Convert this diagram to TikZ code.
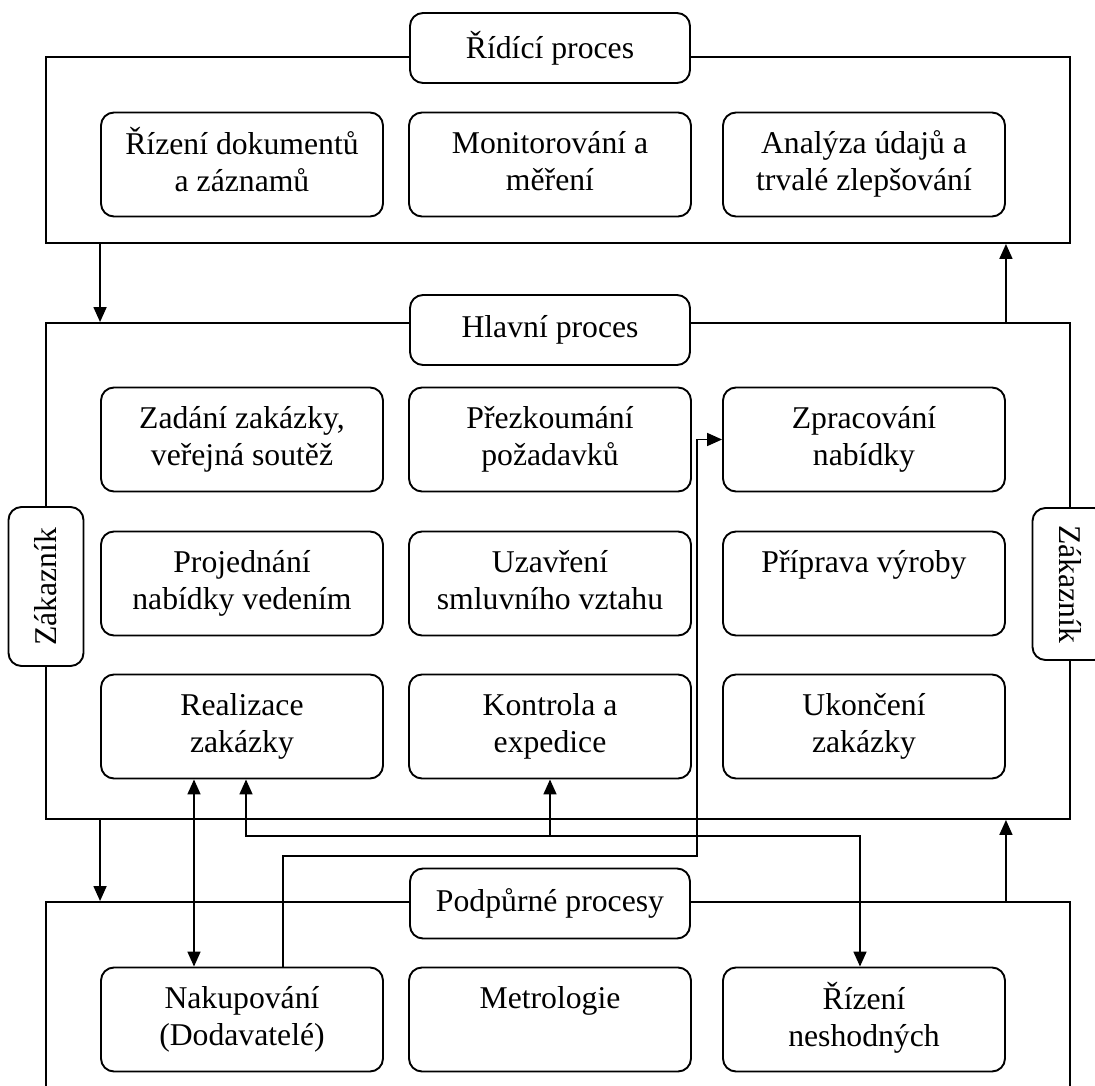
\documentclass[tikz,border=0pt]{standalone}
\usepackage{fontspec}
\setmainfont{Liberation Serif}
\usetikzlibrary{arrows.meta}
\begin{document}
\begin{tikzpicture}[x=1pt,y=-1pt,
  every node/.style={font=\fontsize{31.7}{37}\selectfont},
  frame/.style={draw, line width=1.9pt, minimum width=1024, inner sep=0},
  procbox/.style={draw, line width=1.9pt, rounded corners=13pt, fill=white,
    minimum width=282, minimum height=104, align=center, inner sep=0},
  titlebox/.style={draw, line width=1.9pt, rounded corners=13pt, fill=white,
    minimum width=280, minimum height=70, inner sep=0},
  custbox/.style={draw, line width=1.9pt, rounded corners=13pt, fill=white,
    minimum height=75, inner sep=0},
  link/.style={line width=1.7pt},
  tip/.tip={Triangle[length=15pt,width=13pt]},
  arr/.style={link, -tip},
  dbl/.style={link, tip-tip},
]
\clip (0,0) rectangle (1095,1086);

% process groups
\node[frame, minimum height=186] (ctrl) at (558,150) {};
\node[frame, minimum height=496] (main) at (558,571) {};
\node[frame, minimum height=218] (supp) at (558,1011) {};

% routing points
\coordinate (dv) at (194,0);
\coordinate (j1) at (246,836);
\coordinate (nes) at (860,836);
\coordinate (k1) at (283,856);
\coordinate (k2) at (697,856);

% group titles
\node[titlebox] (tctrl) at (550,48) {Řídící proces};
\node[titlebox] (tmain) at (550,330) {Hlavní proces};
\node[titlebox] (tsupp) at (550,903.5) {Podpůrné procesy};

% control processes
\node[procbox] (r1) at (242,164.5) {\strut Řízení dokumentů\\\strut a záznamů};
\node[procbox] (r2) at (550,164.5) {\strut Monitorování a\\\strut měření};
\node[procbox] (r3) at (864,164.5) {\strut Analýza údajů a\\\strut trvalé zlepšování};

% main processes
\node[procbox] (a1) at (242,439.5) {\strut Zadání zakázky,\\\strut veřejná soutěž};
\node[procbox] (a2) at (550,439.5) {\strut Přezkoumání\\\strut požadavků};
\node[procbox] (a3) at (864,439.5) {\strut Zpracování\\\strut nabídky};
\node[procbox] (b1) at (242,583.5) {\strut Projednání\\\strut nabídky vedením};
\node[procbox] (b2) at (550,583.5) {\strut Uzavření\\\strut smluvního vztahu};
\node[procbox] (b3) at (864,583.5) {\strut Příprava výroby\\\strut};
\node[procbox] (c1) at (242,726.5) {\strut Realizace\\\strut zakázky};
\node[procbox] (c2) at (550,726.5) {\strut Kontrola a\\\strut expedice};
\node[procbox] (c3) at (864,726.5) {\strut Ukončení\\\strut zakázky};

% support processes
\node[procbox] (s1) at (242,1019.5) {\strut Nakupování\\\strut (Dodavatelé)};
\node[procbox] (s2) at (550,1019.5) {\strut Metrologie\\\strut};
\node[procbox] (s3) at (864,1019.5) {\strut Řízení\\\strut neshodných};

% links between the groups
\draw[arr] (ctrl.south -| r1.south west) -- (main.north -| r1.south west);
\draw[arr] (main.north -| r3.south east) -- (ctrl.south -| r3.south east);
\draw[arr] (main.south -| c1.south west) -- (supp.north -| c1.south west);
\draw[arr] (supp.north -| c3.south east) -- (main.south -| c3.south east);

% links between single processes
\draw[dbl] (c1.south -| dv) -- (s1.north -| dv);
\draw[dbl] (c1.south -| j1) -- (j1) -- (nes) -- (s3.north -| nes);
\draw[arr] (c2.south |- j1) -- (c2.south);
\draw[arr] (s1.north -| k1) -- (k1) -- (k2) -- (k2 |- a3.west) -- (a3.west);

% customers on both sides
\node[custbox, rotate=90, minimum width=159] (cl) at (46,586.5) {Zákazník};
\node[custbox, rotate=-90, minimum width=152] (cr) at (1070,584) {Zákazník};
\end{tikzpicture}
\end{document}
